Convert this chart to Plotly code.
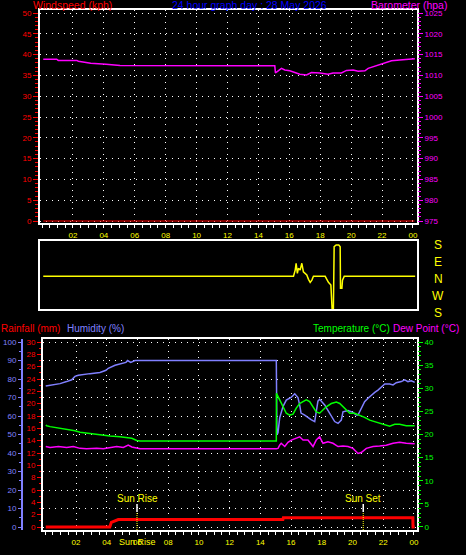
import plotly.graph_objects as go

W, H = 466, 555

# ---------------- data ----------------
wind_hours = [0.08, 24.1]
wind_speed = [0, 0]

baro_hours = [0.08, 0.95, 1.05, 2.25, 2.35, 2.85, 3.15, 4.14, 4.61, 5.05, 15.06, 15.10, 15.28,
              15.49, 15.71, 16.03, 16.36, 16.68, 17.11, 17.43, 17.97, 18.51, 18.83, 19.37,
              19.70, 20.13, 20.45, 20.89, 21.10, 21.42, 21.86, 22.18, 22.61, 23.15, 23.58, 24.12]
baro_hpa = [1013.9, 1013.9, 1013.6, 1013.6, 1013.4, 1013.1, 1012.9, 1012.7, 1012.5, 1012.4,
            1012.3, 1010.6, 1011.1, 1011.7, 1011.3, 1011.1, 1010.7, 1010.3, 1010.1, 1010.7,
            1010.6, 1010.3, 1010.6, 1010.6, 1011.2, 1011.3, 1011.0, 1011.1, 1011.7, 1012.1,
            1012.7, 1013.1, 1013.5, 1013.7, 1013.9, 1014.0]

dir_hours = [0.08, 16.27, 16.38, 16.44, 16.52, 16.59, 16.70, 16.81, 16.91, 17.02, 17.13, 17.24,
             17.35, 17.46, 17.56, 18.32, 18.43, 18.53, 18.69, 18.77, 18.85, 18.90, 19.03, 19.20,
             19.29, 19.31, 19.40, 19.44, 19.55, 24.14]
dir_bearing = [0, 0, 33, 69, 16, 42, 33, 69, 24, 16, 7, 344, 328, 340, 0, 0, 344, 328, 314,
               182, 182, 157, 166, 166, 157, 297, 297, 340, 0, 0]

hum_hours = [0.03, 0.42, 0.96, 1.39, 1.72, 1.93, 2.15, 2.91, 3.56, 3.95, 4.10, 4.54, 5.25, 5.36,
             5.56, 5.84, 15.04, 15.08, 15.15, 15.26, 15.35, 15.47, 15.69, 16.0, 16.24, 16.45,
             16.56, 16.65, 16.89, 17.10, 17.30, 17.54, 17.62, 17.75, 17.86, 18.08, 18.19, 18.40,
             18.60, 18.84, 19.06, 19.27, 19.38, 19.71, 20.03, 20.25, 20.36, 20.57, 20.79, 21.01,
             21.22, 21.45, 21.66, 21.88, 22.10, 22.42, 22.64, 22.85, 23.18, 23.40, 23.61, 23.83, 24.05]
humidity = [76.2, 76.6, 77.5, 78.6, 79.6, 81.4, 82, 82.9, 83.5, 84.7, 85.8, 87.4, 89, 90, 89, 90,
            90, 50, 51, 59, 62, 65, 68.6, 70, 72, 70, 66, 61.6, 60.5, 59, 58, 57, 62, 68, 69, 67,
            66, 63, 60.5, 57, 56, 57.8, 62.3, 63, 62, 60.5, 60.5, 64, 67.7, 69.6, 71.4, 72.8, 74,
            75.8, 77.3, 77.3, 76.8, 78, 78.6, 79.5, 78.6, 79, 78.2]

temp_hours = [0.03, 0.09, 0.31, 0.74, 1.39, 1.93, 2.26, 2.91, 3.56, 4.21, 4.86, 5.30, 5.63, 5.95,
              6.17, 15.04, 15.05, 15.26, 15.48, 15.69, 15.91, 16.13, 16.34, 16.56, 16.78, 16.99,
              17.21, 17.43, 17.64, 17.86, 18.08, 18.29, 18.62, 18.95, 19.17, 19.38, 19.60, 19.82,
              20.14, 20.47, 20.79, 21.12, 21.45, 21.77, 22.10, 22.42, 22.75, 23.07, 23.50, 24.05]
temperature = [22.05, 21.9, 21.7, 21.5, 21.2, 20.8, 20.5, 20.2, 20.0, 19.7, 19.5, 19.3, 19.2, 18.7,
               18.6, 18.6, 28.9, 27.5, 26, 24.6, 24.2, 24.4, 25.7, 26.7, 27.1, 27.5, 27.1, 26,
               24.9, 24.6, 25.3, 26, 26.7, 27, 26.7, 26, 25.3, 24.6, 24.6, 24.2, 23.7, 23.1, 22.8,
               22.4, 22.05, 21.8, 22.2, 22.2, 21.9, 21.9]

dew_hours = [0.03, 0.31, 0.85, 1.39, 1.82, 2.26, 2.69, 3.35, 3.78, 4.21, 4.65, 5.08, 5.40, 5.63,
             5.95, 6.17, 15.04, 15.15, 15.26, 15.36, 15.59, 15.80, 16.02, 16.34, 16.56, 16.78,
             17.10, 17.43, 17.64, 17.86, 18.08, 18.40, 18.73, 19.06, 19.38, 19.71, 20.03, 20.36,
             20.57, 20.90, 21.34, 21.77, 22.20, 22.64, 23.07, 23.50, 24.05]
dew_point = [17.4, 17.2, 17.4, 17.2, 17.4, 17.0, 16.9, 17.0, 16.9, 17.1, 17.4, 17.2, 17.7, 17.3,
             17.1, 16.9, 16.9, 17.0, 17.7, 18.1, 17.4, 18.3, 18.8, 19.2, 19.5, 18.8, 18.8, 17.4,
             18.8, 19.5, 18.1, 18.4, 18.1, 17.4, 17.5, 17.4, 17.0, 15.9, 16.1, 17.0, 17.4, 17.5,
             17.7, 18.1, 18.3, 18.1, 18.0]

rain_hours = [0.03, 4.20, 4.30, 4.54, 4.75, 15.47, 15.50, 23.93, 23.94, 24.05]
rainfall = [0, 0, 0.76, 1.0, 1.2, 1.2, 1.5, 1.5, 0, 0]

hour_ticks = [2, 4, 6, 8, 10, 12, 14, 16, 18, 20, 22, 24]
hour_labels = ["02", "04", "06", "08", "10", "12", "14", "16", "18", "20", "22", "00"]
dir_labels = ["S", "E", "N", "W", "S"]

sunrise_hour = 5.97
sunset_hour = 20.70

# ---------------- helpers ----------------
def px_x(p):
    return p / W

def px_y(p):
    return 1 - p / H

RED = "#ff0000"
MAG = "#ff00ff"
GRN = "#00ff00"
HUM = "#8080ff"
YEL = "#ffff00"
BLU = "#0000ff"
FONT = "Liberation Sans"
DOT = "1px,5px"

fig = go.Figure()

# top panel
fig.add_trace(go.Scatter(x=wind_hours, y=wind_speed, mode="lines", line=dict(color=RED, width=1.2),
                         xaxis="x", yaxis="y", showlegend=False, hoverinfo="skip"))
fig.add_trace(go.Scatter(x=baro_hours, y=baro_hpa, mode="lines", line=dict(color=MAG, width=1.5),
                         xaxis="x", yaxis="y2", showlegend=False))

# middle panel (direction)
dir_plot = [b if b <= 180 else b - 360 for b in dir_bearing]
fig.add_trace(go.Scatter(x=dir_hours, y=dir_plot, mode="lines", line=dict(color=YEL, width=1.5),
                         xaxis="x2", yaxis="y3", showlegend=False))

# bottom panel
fig.add_trace(go.Scatter(x=temp_hours, y=temperature, mode="lines", line=dict(color=GRN, width=1.5),
                         xaxis="x3", yaxis="y6", showlegend=False))
fig.add_trace(go.Scatter(x=dew_hours, y=dew_point, mode="lines", line=dict(color=MAG, width=1.5),
                         xaxis="x3", yaxis="y6", showlegend=False))
fig.add_trace(go.Scatter(x=hum_hours, y=humidity, mode="lines", line=dict(color=HUM, width=1.5),
                         xaxis="x3", yaxis="y5", showlegend=False))
fig.add_trace(go.Scatter(x=rain_hours, y=rainfall, mode="lines", line=dict(color=RED, width=3),
                         xaxis="x3", yaxis="y4", showlegend=False))

tickfont = lambda c: dict(family=FONT, size=8, color=c)

xcommon = dict(tickmode="array", tickvals=hour_ticks, ticktext=hour_labels,
               showline=True, linecolor="white", linewidth=2, mirror=True,
               ticks="outside", ticklen=3, tickcolor="white", tickwidth=1,
               tickfont=tickfont(YEL), showgrid=True, gridcolor="white", griddash=DOT, gridwidth=1,
               zeroline=False, automargin=False,
               minor=dict(tickmode="linear", tick0=0, dtick=0.5, ticks="outside", ticklen=3,
                          tickcolor="white", showgrid=False))

top_dom = [px_y(223), px_y(10)]
mid_dom = [px_y(309), px_y(241)]
bot_dom = [px_y(530), px_y(339)]

fig.update_layout(
    width=W, height=H, autosize=False, template="none",
    margin=dict(l=0, r=0, t=0, b=0),
    paper_bgcolor="black", plot_bgcolor="black",
    showlegend=False,
    xaxis=dict(domain=[px_x(40), px_x(417)], anchor="y", range=[-0.13, 24.26], **xcommon),
    yaxis=dict(domain=top_dom, anchor="x", range=[-0.48, 50.72], tickmode="linear", tick0=0, dtick=5,
               showline=True, linecolor="white", linewidth=2, mirror=True,
               ticks="outside", ticklen=5, tickcolor=RED, tickfont=tickfont(RED),
               showgrid=True, gridcolor="white", griddash=DOT, gridwidth=1, zeroline=False,
               automargin=False,
               minor=dict(tickmode="linear", tick0=0, dtick=1, ticks="outside", ticklen=3,
                          tickcolor=RED, showgrid=False)),
    yaxis2=dict(overlaying="y", anchor="x", side="right", range=[974.52, 1025.72],
                tickmode="linear", tick0=975, dtick=5, showline=False,
                ticks="outside", ticklen=5, tickcolor=MAG, tickfont=tickfont(MAG),
                showgrid=False, zeroline=False, automargin=False,
                minor=dict(tickmode="linear", tick0=975, dtick=1, ticks="outside", ticklen=3,
                           tickcolor=MAG, showgrid=False)),
    xaxis2=dict(domain=[px_x(40), px_x(417)], anchor="y3", range=[-0.13, 24.26],
                showline=True, linecolor="white", linewidth=2, mirror=True,
                showticklabels=False, ticks="", showgrid=False, zeroline=False, automargin=False),
    yaxis3=dict(domain=mid_dom, anchor="x2", range=[-173, 187],
                showline=True, linecolor="white", linewidth=2, mirror=True,
                showticklabels=False, ticks="", showgrid=False, zeroline=False, automargin=False),
    xaxis3=dict(domain=[px_x(43), px_x(417)], anchor="y4", range=[-0.15, 24.2], **xcommon),
    yaxis4=dict(domain=bot_dom, anchor="x3", range=[-0.486, 30.486], tickmode="linear", tick0=0, dtick=2,
                showline=True, linecolor="white", linewidth=2, mirror=True,
                ticks="outside", ticklen=4, tickcolor=RED, tickfont=tickfont(RED),
                showgrid=False, zeroline=False, automargin=False,
                minor=dict(tickmode="linear", tick0=0, dtick=1, ticks="outside", ticklen=2,
                           tickcolor=RED, showgrid=False)),
    yaxis5=dict(overlaying="y4", anchor="free", position=px_x(22), side="left",
                range=[-1.62, 101.62], tickmode="linear", tick0=0, dtick=10,
                showline=True, linecolor=HUM, linewidth=2,
                ticks="outside", ticklen=3, tickcolor=HUM, tickfont=tickfont(HUM),
                showgrid=True, gridcolor="white", griddash=DOT, gridwidth=1,
                zeroline=False, automargin=False,
                minor=dict(tickmode="linear", tick0=0, dtick=5, ticks="outside", ticklen=2,
                           tickcolor=HUM, showgrid=False)),
    yaxis6=dict(overlaying="y4", anchor="x3", side="right", range=[-0.65, 40.65],
                tickmode="linear", tick0=0, dtick=5, showline=False,
                ticks="outside", ticklen=5, tickcolor=GRN, tickfont=tickfont(GRN),
                showgrid=False, zeroline=False, automargin=False,
                minor=dict(tickmode="linear", tick0=0, dtick=1, ticks="outside", ticklen=3,
                           tickcolor=GRN, showgrid=False)),
)

tfont = lambda c, s=11: dict(family=FONT, size=s, color=c)
ann = []
def text_px(txt, xpx, ypx, color, xanchor="left", size=11):
    ann.append(dict(text=txt, x=px_x(xpx), y=px_y(ypx), xref="paper", yref="paper",
                    xanchor=xanchor, yanchor="middle", showarrow=False, font=tfont(color, size),
                    borderpad=0))

text_px("Windspeed (kph)", 32, 5, RED, size=10.5)
text_px("24 hour graph day : 28 May 2026", 250, 5, BLU, "center", size=10.5)
text_px("Barometer (hpa)", 370, 5, MAG, size=10.5)
text_px("Rainfall (mm)", 0, 328, RED, size=10)
text_px("Humidity (%)", 66, 328, HUM, size=10)
text_px("Temperature (°C)", 312, 328, GRN, size=10)
text_px("Dew Point (°C)", 392, 328, MAG, size=10)

for lbl, ypx in zip(dir_labels, [245, 262, 279, 296, 313]):
    text_px(lbl, 438, ypx, YEL, "center", 12)

for name, hr in [("Sun Rise", sunrise_hour), ("Sun Set", sunset_hour)]:
    ann.append(dict(text=name, x=hr, xref="x3", y=px_y(498), yref="paper", xanchor="center",
                    yanchor="middle", showarrow=False, font=tfont(YEL, 10), borderpad=0))
ann.append(dict(text="Sun Rise", x=sunrise_hour, xref="x3", y=px_y(542), yref="paper",
                xanchor="center", yanchor="middle", showarrow=False, font=tfont(YEL, 9), borderpad=0))

shapes = []
for hr in [sunrise_hour, sunset_hour]:
    shapes.append(dict(type="line", xref="x3", yref="paper", x0=hr, x1=hr,
                       y0=px_y(512), y1=px_y(504), line=dict(color="white", width=1.5)))
    shapes.append(dict(type="line", xref="x3", yref="paper", x0=hr, x1=hr,
                       y0=px_y(530), y1=px_y(512), line=dict(color=YEL, width=1, dash="1px,1px")))

fig.update_layout(annotations=ann, shapes=shapes)

fig.write_html("out.html",
               config={"displayModeBar": False},
               post_script="document.body.style.margin='0';document.body.style.padding='0';"
                           "document.body.style.background='black';")
